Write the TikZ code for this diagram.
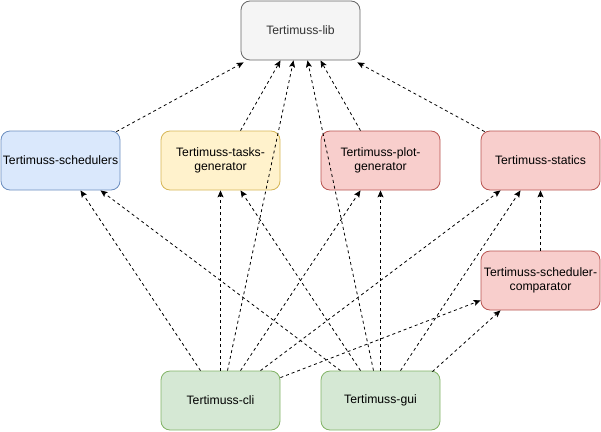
\documentclass[tikz,border=0pt]{standalone}
\usepackage{fontspec}
\setmainfont{Liberation Sans}
\usetikzlibrary{arrows.meta}
\definecolor{libfill}{HTML}{F5F5F5}
\definecolor{libline}{HTML}{666666}
\definecolor{libtext}{HTML}{333333}
\definecolor{bluefill}{HTML}{DAE8FC}
\definecolor{blueline}{HTML}{6C8EBF}
\definecolor{yellowfill}{HTML}{FFF2CC}
\definecolor{yellowline}{HTML}{D6B656}
\definecolor{redfill}{HTML}{F8CECC}
\definecolor{redline}{HTML}{B85450}
\definecolor{greenfill}{HTML}{D5E8D4}
\definecolor{greenline}{HTML}{82B366}
\begin{document}
\begin{tikzpicture}[x=1pt, y=-1pt, >={Stealth[length=7pt,width=6pt,inset=1.5pt]},
    box/.style={draw, line width=0.8pt, rounded corners=9pt, minimum width=119pt, minimum height=59pt,
        align=center, inner sep=1pt, font=\fontsize{12.2}{14}\selectfont},
    dep/.style={->, dash pattern=on 3pt off 3pt, line width=0.8pt}]
        \useasboundingbox (0,0) rectangle (601,431);
        % packages
        \node[box, fill=libfill, draw=libline, text=libtext] (lib) at (300.5,30.5) {Tertimuss-lib};
        \node[box, fill=bluefill, draw=blueline] (sched) at (60.5,160.5) {Tertimuss-schedulers};
        \node[box, fill=yellowfill, draw=yellowline] (tasks) at (220.5,160.5) {Tertimuss-tasks-\\generator};
        \node[box, fill=redfill, draw=redline] (plot) at (380.5,160.5) {Tertimuss-plot-\\generator};
        \node[box, fill=redfill, draw=redline] (statics) at (540.5,160.5) {Tertimuss-statics};
        \node[box, fill=redfill, draw=redline] (comp) at (540.5,280.5) {Tertimuss-scheduler-\\comparator};
        \node[box, fill=greenfill, draw=greenline] (cli) at (220.5,400.5) {Tertimuss-cli};
        \node[box, fill=greenfill, draw=greenline] (gui) at (380.5,400.5) {Tertimuss-gui};
        % dependencies on lib
        \draw[dep] ([shift={(-4,1)}]sched.north east) -- ([shift={(3,2)}]lib.south west);
        \draw[dep] ([xshift=20]tasks.north) -- ([xshift=-20]lib.south);
        \draw[dep] ([xshift=-20]plot.north) -- ([xshift=20]lib.south);
        \draw[dep] ([shift={(4,1)}]statics.north west) -- ([shift={(-3,2)}]lib.south east);
        \draw[dep] ([xshift=7]cli.north) -- ([xshift=-7]lib.south);
        \draw[dep] ([xshift=-7]gui.north) -- ([xshift=7]lib.south);
        % cli
        \draw[dep] ([xshift=-20]cli.north) -- ([xshift=20]sched.south);
        \draw[dep] (cli.north) -- (tasks.south);
        \draw[dep] ([xshift=20]cli.north) -- ([xshift=-20]plot.south);
        \draw[dep] ([xshift=40]cli.north) -- ([xshift=-40]statics.south);
        \draw[dep] ([shift={(0,7)}]cli.north east) -- ([shift={(0,-10)}]comp.south west);
        % gui
        \draw[dep] ([xshift=-40]gui.north) -- ([xshift=40]sched.south);
        \draw[dep] ([xshift=-20]gui.north) -- ([xshift=20]tasks.south);
        \draw[dep] (gui.north) -- (plot.south);
        \draw[dep] ([xshift=20]gui.north) -- ([xshift=-20]statics.south);
        \draw[dep] ([shift={(-8,1)}]gui.north east) -- ([xshift=-40]comp.south);
        % comparator
        \draw[dep] (comp.north) -- (statics.south);
    \end{tikzpicture}
\end{document}
